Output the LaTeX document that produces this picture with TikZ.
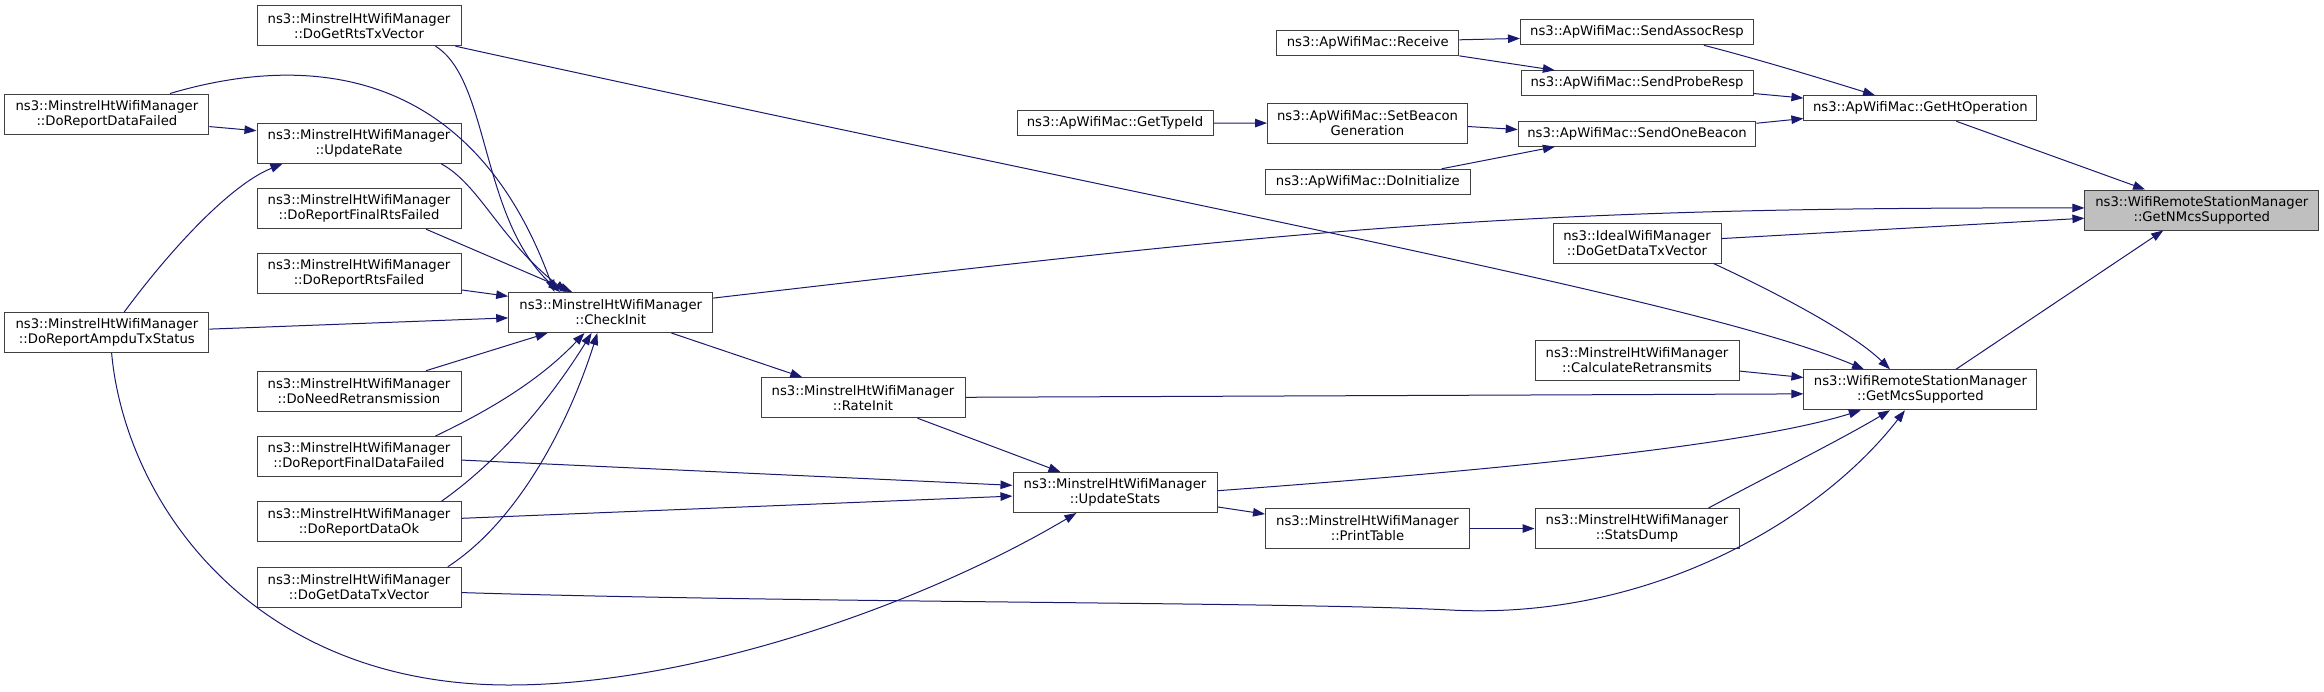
\documentclass[tikz,border=0pt]{standalone}
\usepackage{fontspec}
\setmainfont{DejaVu Sans}
\usepackage{xcolor}
\usepackage{tikz}
\usetikzlibrary{arrows.meta}

\definecolor{callblue}{HTML}{191970}
\definecolor{rootgray}{HTML}{BFBFBF}

\tikzset{
  fn/.style={draw=black!75, line width=1pt, fill=white, minimum width=#1, minimum height=40pt,
    inner sep=0pt, align=center, font=\fontsize{13.2}{15}\selectfont},
  fnone/.style={fn=#1, minimum height=25pt},
  call/.style={draw=callblue, line width=1pt, -{Triangle[length=12pt,width=8.5pt]}}
}

\begin{document}
\begin{tikzpicture}[x=1pt,y=1pt]
\useasboundingbox (0,0) rectangle (2324,-691);

\node at (106.9,-114) (drf)[fn=204pt]{ns3::MinstrelHtWifiManager\\::DoReportDataFailed};
\node at (106.9,-332.7) (ampdu)[fn=204pt]{ns3::MinstrelHtWifiManager\\::DoReportAmpduTxStatus};

\node at (359,-25.7) (rts)[fn=204pt]{ns3::MinstrelHtWifiManager\\::DoGetRtsTxVector};
\node at (359,-143.3) (upr)[fn=204pt]{ns3::MinstrelHtWifiManager\\::UpdateRate};
\node at (359,-208.7) (frts)[fn=204pt]{ns3::MinstrelHtWifiManager\\::DoReportFinalRtsFailed};
\node at (359,-273.7) (rtsf)[fn=204pt]{ns3::MinstrelHtWifiManager\\::DoReportRtsFailed};
\node at (359,-391.2) (need)[fn=204pt]{ns3::MinstrelHtWifiManager\\::DoNeedRetransmission};
\node at (359,-456.5) (fdf)[fn=204pt]{ns3::MinstrelHtWifiManager\\::DoReportFinalDataFailed};
\node at (359,-521.9) (dok)[fn=204pt]{ns3::MinstrelHtWifiManager\\::DoReportDataOk};
\node at (359,-587.2) (gdt)[fn=204pt]{ns3::MinstrelHtWifiManager\\::DoGetDataTxVector};

\node at (610.7,-312.5) (ci)[fn=204pt]{ns3::MinstrelHtWifiManager\\::CheckInit};
\node at (863,-397.7) (rinit)[fn=204pt]{ns3::MinstrelHtWifiManager\\::RateInit};
\node at (1115,-492.5) (ust)[fn=204pt]{ns3::MinstrelHtWifiManager\\::UpdateStats};
\node at (1367.5,-528.5) (ptab)[fn=204pt]{ns3::MinstrelHtWifiManager\\::PrintTable};

\node at (1115,-123.2) (gtid)[fnone=196pt]{ns3::ApWifiMac::GetTypeId};
\node at (1367.8,-43) (recv)[fnone=182pt]{ns3::ApWifiMac::Receive};
\node at (1367.5,-123) (sbg)[fn=200pt]{ns3::ApWifiMac::SetBeacon\\Generation};
\node at (1367.8,-181.8) (dinit)[fnone=205.6pt]{ns3::ApWifiMac::DoInitialize};

\node at (1637,-32.3) (sar)[fnone=233pt]{ns3::ApWifiMac::SendAssocResp};
\node at (1637,-83.3) (spr)[fnone=232pt]{ns3::ApWifiMac::SendProbeResp};
\node at (1637,-133.7) (sob)[fnone=237.6pt]{ns3::ApWifiMac::SendOneBeacon};
\node at (1637,-243) (ideal)[fn=168pt]{ns3::IdealWifiManager\\::DoGetDataTxVector};
\node at (1637,-360.3) (cret)[fn=204pt]{ns3::MinstrelHtWifiManager\\::CalculateRetransmits};
\node at (1637,-528.5) (sdump)[fn=204pt]{ns3::MinstrelHtWifiManager\\::StatsDump};

\node at (1920.4,-108.3) (ght)[fnone=233pt]{ns3::ApWifiMac::GetHtOperation};
\node at (1920.4,-389.8) (gms)[fn=233pt]{ns3::WifiRemoteStationManager\\::GetMcsSupported};
\node at (2201.8,-210) (gnm)[fn=233.8pt, fill=rootgray]{ns3::WifiRemoteStationManager\\::GetNMcsSupported};

\path (ght) edge[call] (gnm);
\draw[call] (ci.8) .. controls (1300,-230) and (1500,-207) .. (gnm.179);
\path (ideal.3) edge[call] (gnm.184);
\path (gms.30) edge[call] (gnm.208);

\draw[call] (sar.-11) .. controls (1750,-57) and (1820,-78) .. (ght.164);
\path (spr.-5) edge[call] (ght.175);
\path (sob.5) edge[call] (ght.185);
\path (recv.2) edge[call] (sar.183);
\path (recv.-8) edge[call] (spr.171);
\path (sbg.-2) edge[call] (sob.178);
\path (dinit.10) edge[call] (sob.189);
\path (gtid) edge[call] (sbg);

\draw[call] (rts.-12) .. controls (1200,-210) and (1700,-300) .. (gms.160);
\draw[call] (ideal.-15) .. controls (1760,-285) and (1850,-330) .. (gms.146);
\path (cret.-6) edge[call] (gms.174);
\path (rinit) edge[call] (gms.182);
\draw[call] (ust.1) .. controls (1500,-470) and (1750,-445) .. (gms.199);
\draw[call] (sdump.16) .. controls (1770,-475) and (1840,-440) .. (gms.214);
\draw[call] (gdt.-3) .. controls (800,-603) and (1300,-602) .. (1450,-610)
  .. controls (1650,-620.7) and (1820,-520) .. (gms.233);

\path (ci) edge[call] (rinit);
\path (rinit) edge[call] (ust);
\path (ust.-8) edge[call] (ptab.172);
\path (ptab) edge[call] (sdump);
\path (fdf.-2) edge[call] (ust.176);
\path (dok.2) edge[call] (ust.182);
\draw[call] (ampdu.-77) .. controls (125,-500) and (250,-685) .. (509,-685)
  .. controls (700,-685) and (930,-600) .. (ust.208);

\draw[call] (ampdu.50) .. controls (170,-250) and (230,-185) .. (upr.195);
\path (ampdu.2) edge[call] (ci.183);
\path (drf.-7) edge[call] (upr.173);
\draw[call] (drf.18) .. controls (300,-55) and (470,-60) .. (ci.160);
\draw[call] (rts.-15) .. controls (490,-80) and (480,-220) .. (ci.158);
\draw[call] (upr.-14) .. controls (480,-185) and (500,-240) .. (ci.155);
\path (frts.-17) edge[call] (ci.152);
\path (rtsf.-9) edge[call] (ci.171);
\path (need.17) edge[call] (ci.198);
\draw[call] (fdf.15) .. controls (490,-410) and (540,-380) .. (ci.218);
\draw[call] (dok.14) .. controls (500,-460) and (550,-400) .. (ci.227);
\draw[call] (gdt.13) .. controls (520,-520) and (570,-420) .. (ci.237);
\end{tikzpicture}
\end{document}
